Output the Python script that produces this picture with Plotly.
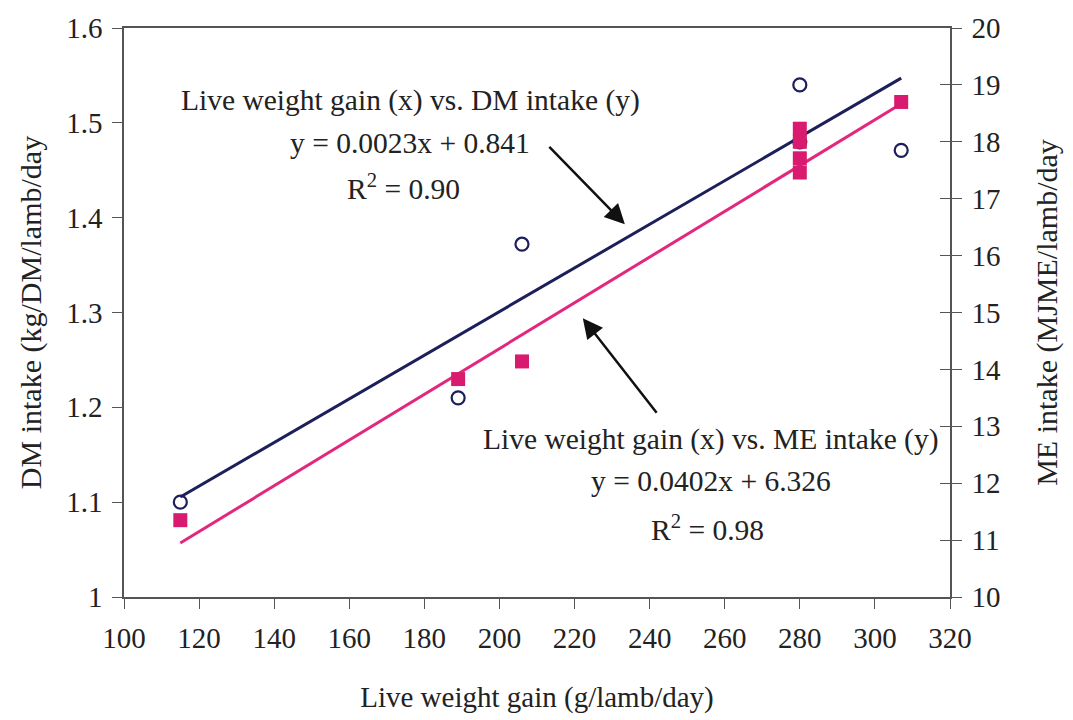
import numpy as np
import plotly.graph_objects as go

# Live weight gain (g/lamb/day) and intakes per group
dm_gain = [115, 189, 206, 280, 280, 307]
dm_intake = [1.10, 1.21, 1.372, 1.54, 1.48, 1.471]   # kg DM/lamb/day

me_gain = [115, 189, 206, 280, 280, 280, 280, 307]
me_intake = [11.35, 13.83, 14.14, 18.23, 18.00, 17.71, 17.46, 18.70]  # MJ ME/lamb/day

# Fitted regression lines (slope, intercept) and R^2
dm_fit = (0.0023, 0.841, 0.90)
me_fit = (0.0402, 6.326, 0.98)
fit_range = [115, 307]

x_ticks = list(range(100, 321, 20))
dm_ticks = [1, 1.1, 1.2, 1.3, 1.4, 1.5, 1.6]
dm_tick_text = ["1", "1.1", "1.2", "1.3", "1.4", "1.5", "1.6"]
me_ticks = list(range(10, 21))

FONT = "Liberation Serif"
NAVY = "#1c1f5a"
PINK = "#e2287e"
SQUARE = "#d81b6e"
AXIS = "#555555"
TEXT = "#222222"

fx = np.array(fit_range, dtype=float)

fig = go.Figure()

fig.add_trace(go.Scatter(
    x=fx, y=dm_fit[0] * fx + dm_fit[1], mode="lines",
    line=dict(color=NAVY, width=3), yaxis="y", showlegend=False))
fig.add_trace(go.Scatter(
    x=fx, y=me_fit[0] * fx + me_fit[1], mode="lines",
    line=dict(color=PINK, width=3), yaxis="y2", showlegend=False))
fig.add_trace(go.Scatter(
    x=me_gain, y=me_intake, mode="markers", yaxis="y2",
    marker=dict(symbol="square", size=14, color=SQUARE, line=dict(width=0)),
    showlegend=False))
fig.add_trace(go.Scatter(
    x=dm_gain, y=dm_intake, mode="markers", yaxis="y",
    marker=dict(symbol="circle-open", size=13, color=NAVY, line=dict(width=2.2)),
    showlegend=False))
# carrier trace for the inner tick marks on the right axis
fig.add_trace(go.Scatter(x=[None], y=[None], yaxis="y3", showlegend=False,
                         hoverinfo="skip"))

axis_common = dict(showgrid=False, zeroline=False, showline=True,
                   linecolor=AXIS, linewidth=1.5, tickcolor=AXIS,
                   ticklen=10, tickwidth=1.3,
                   tickfont=dict(family=FONT, size=29, color=TEXT))

fig.update_layout(
    width=1073, height=720,
    margin=dict(l=124, r=123, t=28, b=121),
    paper_bgcolor="white", plot_bgcolor="white",
    font=dict(family=FONT, color=TEXT),
    xaxis=dict(range=[100, 320], tickvals=x_ticks, ticks="outside",
               mirror=True, ticklabelstandoff=4,
               title=dict(text="Live weight gain (g/lamb/day)",
                          font=dict(family=FONT, size=29), standoff=34),
               **axis_common),
    yaxis=dict(range=[1, 1.6], tickvals=dm_ticks, ticktext=dm_tick_text,
               ticks="outside", ticklabelstandoff=4,
               title=dict(text="DM intake (kg/DM/lamb/day",
                          font=dict(family=FONT, size=30), standoff=16),
               **axis_common),
    yaxis2=dict(range=[10, 20], tickvals=me_ticks, ticks="outside",
                overlaying="y", side="right", ticklabelstandoff=4,
                title=dict(text="ME intake (MJME/lamb/day",
                           font=dict(family=FONT, size=30), standoff=36),
                **axis_common),
    yaxis3=dict(range=[10, 20], tickvals=me_ticks, ticks="inside",
                overlaying="y", side="right", showticklabels=False,
                showgrid=False, zeroline=False, showline=False,
                tickcolor=AXIS, ticklen=10, tickwidth=1.3),
)

ann_font = dict(family=FONT, size=29.5, color=TEXT)

dm_lines = [
    ("Live weight gain (x) vs. DM intake (y)", 176.2, 1.524),
    (f"y = {dm_fit[0]}x + {dm_fit[1]}", 176.2, 1.479),
    (f"R<sup>2</sup> = {dm_fit[2]:.2f}", 174.5, 1.432),
]
me_lines = [
    ("Live weight gain (x) vs. ME intake (y)", 256.3, 1.166),
    (f"y = {me_fit[0]}x + {me_fit[1]}", 256.3, 1.122),
    (f"R<sup>2</sup> = {me_fit[2]:.2f}", 255.5, 1.073),
]
for text, x, y in dm_lines + me_lines:
    fig.add_annotation(x=x, y=y, xref="x", yref="y", text=text,
                       showarrow=False, font=ann_font,
                       xanchor="center", yanchor="middle")

# arrows pointing at each regression line
fig.add_annotation(x=233.4, y=1.393, xref="x", yref="y", text="",
                   showarrow=True, arrowhead=2, arrowsize=1.6, arrowwidth=2.5,
                   arrowcolor="#111111", ax=-77, ay=-79)
fig.add_annotation(x=222.2, y=1.294, xref="x", yref="y", text="",
                   showarrow=True, arrowhead=2, arrowsize=1.6, arrowwidth=2.5,
                   arrowcolor="#111111", ax=75, ay=96)

fig.write_html("out.html")
